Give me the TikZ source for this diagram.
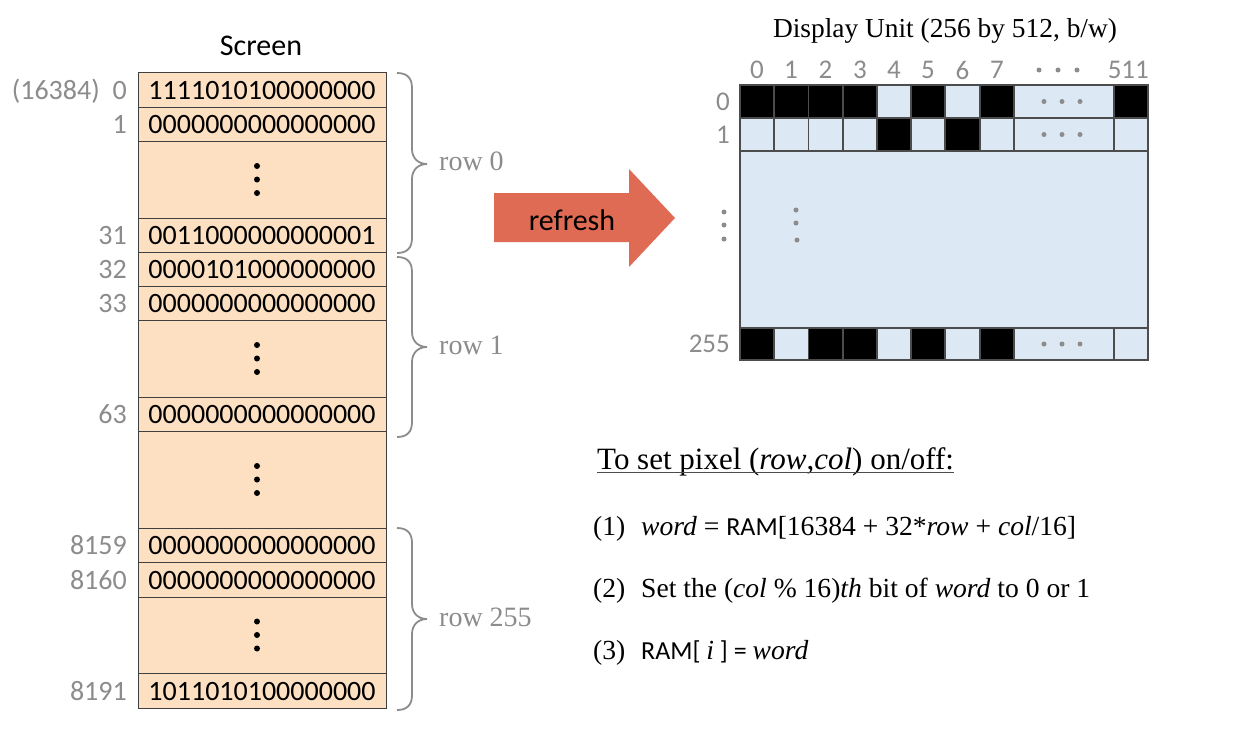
\documentclass[tikz,border=0pt]{standalone}
\usepackage{fontspec}
\setmainfont{Liberation Serif}
\setsansfont{Carlito}
\definecolor{peach}{HTML}{FCE0C1}
\definecolor{lblue}{HTML}{DDE8F5}
\definecolor{labgray}{HTML}{8C8C8C}
\definecolor{arrowred}{HTML}{DF6B55}
\newcommand\sansfs[1]{\sffamily\fontsize{#1}{#1}\selectfont}
\newcommand\seriffs[1]{\rmfamily\fontsize{#1}{#1}\selectfont}
\begin{document}
\begin{tikzpicture}[x=1pt,y=-1pt,
  memcell/.style={draw=black!75, line width=1pt, fill=peach, minimum width=248pt, inner sep=0pt, font=\sansfs{28}, text height=19pt, text depth=0pt},
  addr/.style={anchor=base east, inner sep=0pt, text=labgray, font=\sansfs{28}},
  rowlab/.style={anchor=base west, inner sep=0pt, text=labgray, font=\seriffs{28}},
  brc/.style={draw=labgray, line width=1.8pt},
  mdot/.style={fill=black},
  gdot/.style={fill=labgray},
  gridln/.style={draw=black!70, line width=1.2pt},
  collab/.style={inner sep=0pt, text=labgray, font=\sansfs{27}},
  txtline/.style={anchor=base west, inner sep=0pt, font=\seriffs{27.6}}]
\fill[white] (0,0) rectangle (1234,734);
\useasboundingbox (0,0) rectangle (1234,734);

% ---------- Screen memory map ----------
\node[anchor=base, inner sep=0pt, font=\sansfs{30}] (screen) at (261,55) {Screen};

\node[memcell, minimum height=35pt] (m0) at (262,89.5) {1111010100000000};
\node[memcell, minimum height=34pt] (m1) at (262,124) {0000000000000000};
\node[memcell, minimum height=77pt] (d1) at (262,179.5) {};
\node[memcell, minimum height=34pt] (m31) at (262,235) {0011000000000001};
\node[memcell, minimum height=34pt] (m32) at (262,269) {0000101000000000};
\node[memcell, minimum height=34pt] (m33) at (262,303) {0000000000000000};
\node[memcell, minimum height=77pt] (d2) at (262,358.5) {};
\node[memcell, minimum height=34pt] (m63) at (262,414) {0000000000000000};
\node[memcell, minimum height=97pt] (d3) at (262,479.5) {};
\node[memcell, minimum height=34pt] (m8159) at (262,545) {0000000000000000};
\node[memcell, minimum height=35pt] (m8160) at (262,579.5) {0000000000000000};
\node[memcell, minimum height=76pt] (d4) at (262,635) {};
\node[memcell, minimum height=35pt] (m8191) at (262,690.5) {1011010100000000};

\foreach \c in {179.5,358.5,479.5,635} {
  \fill[mdot] (257,\c-13.5) circle (3pt);
  \fill[mdot] (257,\c) circle (3pt);
  \fill[mdot] (257,\c+13.5) circle (3pt);
}

\node[addr] (a16384) at (100,99) {(16384)};
\node[addr] (a0) at (127,99) {0};
\node[addr] (a1) at (127,133.5) {1};
\node[addr] (a31) at (127,244.5) {31};
\node[addr] (a32) at (127,278.5) {32};
\node[addr] (a33) at (127,312.5) {33};
\node[addr] (a63) at (127,423.5) {63};
\node[addr] (a8159) at (127,554.5) {8159};
\node[addr] (a8160) at (127,589) {8160};
\node[addr] (a8191) at (127,700) {8191};

% braces
\draw[brc] (397,73) .. controls (407,73) and (412,78) .. (412,88) -- (412,149)
  .. controls (412,158) and (418,164) .. (427,164)
  .. controls (418,164) and (412,170) .. (412,179) -- (412,238)
  .. controls (412,248) and (407,253) .. (397,253);
\draw[brc] (397,257) .. controls (407,257) and (412,262) .. (412,272) -- (412,332)
  .. controls (412,341) and (418,347) .. (427,347)
  .. controls (418,347) and (412,353) .. (412,362) -- (412,422)
  .. controls (412,432) and (407,437) .. (397,437);
\draw[brc] (397,528) .. controls (407,528) and (412,533) .. (412,543) -- (412,604)
  .. controls (412,613) and (418,619) .. (427,619)
  .. controls (418,619) and (412,625) .. (412,634) -- (412,695)
  .. controls (412,705) and (407,710) .. (397,710);
\node[rowlab] (row0) at (439,170.5) {row 0};
\node[rowlab] (row1) at (439,354) {row 1};
\node[rowlab] (row255) at (439,626) {row 255};

% ---------- refresh arrow ----------
\fill[arrowred] (494,193) -- (629,193) -- (629,169) -- (675,218) -- (629,267) -- (629,242) -- (494,242) -- cycle;
\node[anchor=base, inner sep=0pt, font=\sansfs{30}] (refresh) at (572,230) {refresh};

% ---------- display unit ----------
\node[anchor=base, inner sep=0pt, font=\seriffs{27.4}] (title) at (945,37) {Display Unit (256 by 512, b/w)};

\fill[lblue] (740,85) rectangle (1148,360);
% row 0
\fill (740,85) rectangle (877,118);
\fill (911,85) rectangle (945,118);
\fill (980,85) rectangle (1014,118);
\fill (1114,85) rectangle (1148,118);
% row 1
\fill (877,118) rectangle (911,151);
\fill (945,118) rectangle (980,151);
% row 255
\fill (740,328) rectangle (774,360);
\fill (808.5,328) rectangle (877,360);
\fill (911,328) rectangle (945,360);
\fill (980,328) rectangle (1014,360);

\draw[gridln] (740,85) rectangle (1148,360);
\draw[gridln] (740,118) -- (1148,118);
\draw[gridln] (740,151) -- (1148,151);
\draw[gridln] (740,328) -- (1148,328);
\foreach \x in {774,808.5,843,877,911,945,980,1014,1114} {
  \draw[gridln] (\x,85) -- (\x,151);
  \draw[gridln] (\x,328) -- (\x,360);
}

\foreach \i/\x in {0/757,1/791,2/825.5,3/860,4/894,5/928,6/962.5,7/997} {
  \node[collab] (col\i) at (\x,70) {\i};
}
\node[collab, anchor=east] (col511) at (1149,70) {511};
\foreach \x in {1039,1058,1077} { \fill[gdot] (\x,70) circle (2.5pt); }
\foreach \y in {101.5,134.5,344} {
  \foreach \x in {1044,1062,1080} { \fill[gdot] (\x,\y) circle (2.5pt); }
}

\node[collab, anchor=east] (r0) at (730,101.5) {0};
\node[collab, anchor=east] (r1) at (730,134.5) {1};
\node[collab, anchor=east] (r255) at (730,344) {255};
\foreach \y in {212,225,239} { \fill[gdot] (724,\y) circle (2.5pt); }
\fill[gdot] (796,210) circle (2.5pt);
\fill[gdot] (796,223) circle (2.5pt);
\fill[gdot] (797,240) circle (2.5pt);

% ---------- instructions ----------
\node[anchor=base west, inner sep=0pt, font=\seriffs{31}] (head) at (597,469) {To set pixel (\textit{row},\textit{col}) on/off:};
\draw[black!70, line width=1.4pt] ([yshift=-3.5pt]head.base west) -- ([yshift=-3.5pt]head.base east);

\node[txtline] (n1) at (593,535) {(1)};
\node[txtline] (s1) at (641,535) {\textit{word} = {\sansfs{26}RAM}[16384 + 32*\textit{row} + \textit{col}/16]};
\node[txtline] (n2) at (593,597) {(2)};
\node[txtline] (s2) at (641,597) {Set the (\textit{col} \% 16)\textit{th} bit of \textit{word} to 0 or 1};
\node[txtline] (n3) at (593,659) {(3)};
\node[txtline] (s3) at (641,659) {{\sansfs{26}RAM[ }\textit{i}{\sansfs{26} ] = }\textit{word}};
\end{tikzpicture}
\end{document}
